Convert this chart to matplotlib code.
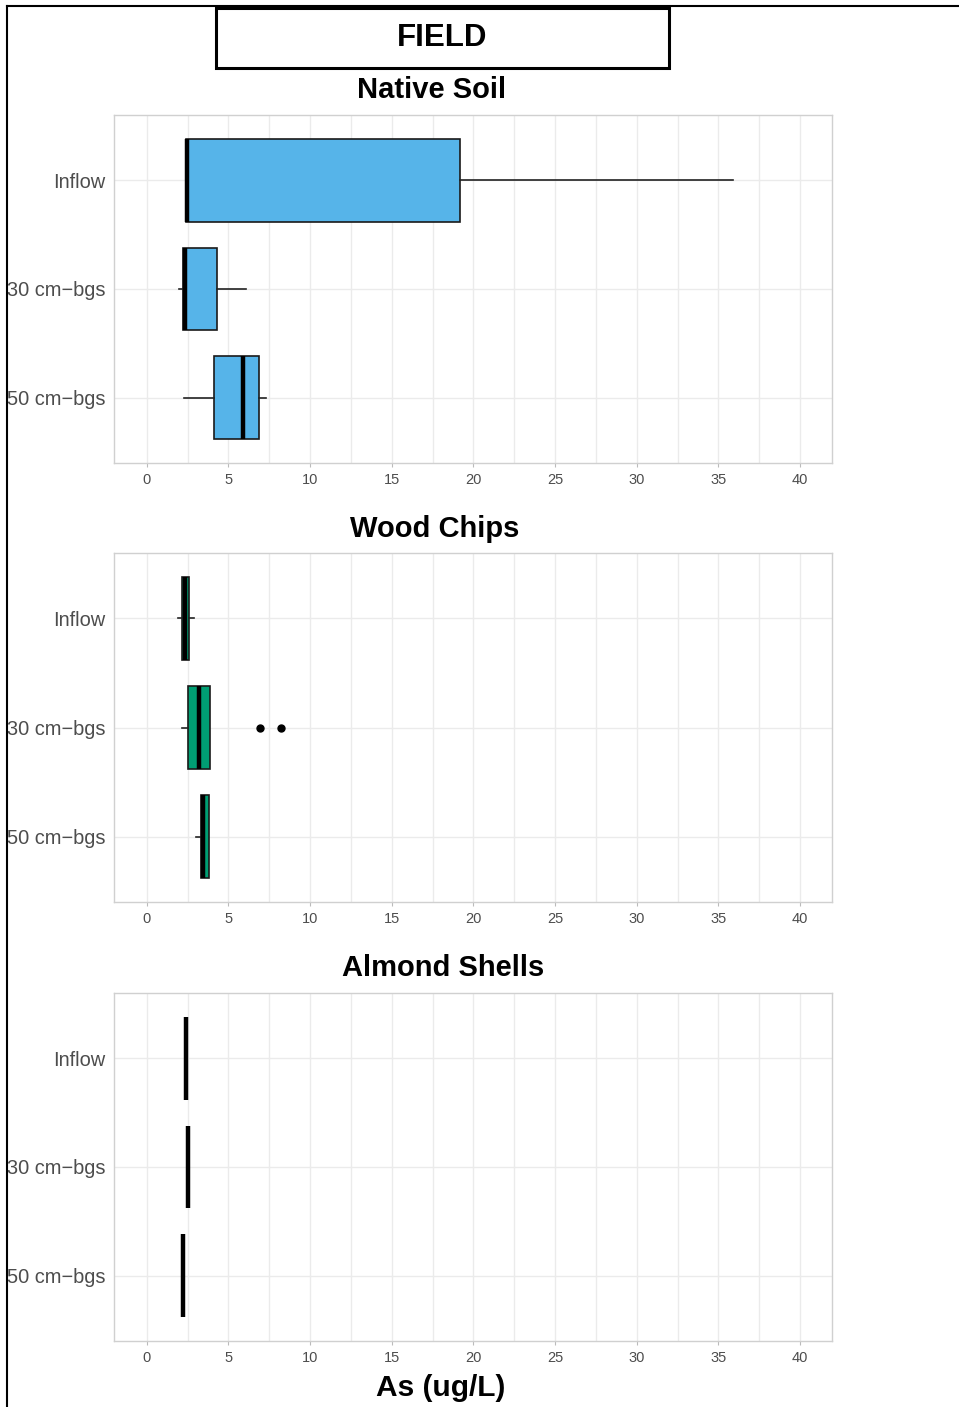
import matplotlib
matplotlib.use("Agg")
import matplotlib.pyplot as plt
from matplotlib.patches import Rectangle
from matplotlib.lines import Line2D

plt.rcParams['font.family'] = ['Liberation Sans', 'DejaVu Sans']

W, H = 959, 1407

depths = ["Inflow", "30 cm\u2212bgs", "50 cm\u2212bgs"]
treatments = ["Native Soil", "Wood Chips", "Almond Shells"]
fills = ["#56B4E9", "#009E73", "#E69F00"]

# box statistics per treatment, ordered Inflow / 30 cm / 50 cm (As, ug/L)
native_q1 = [2.39, 2.20, 4.15]
native_med = [2.45, 2.35, 5.90]
native_q3 = [19.17, 4.29, 6.86]
native_lo = [2.39, 2.00, 2.27]
native_hi = [35.9, 6.06, 7.33]
native_out = [[], [], []]

wood_q1 = [2.16, 2.55, 3.35]
wood_med = [2.35, 3.20, 3.45]
wood_q3 = [2.57, 3.90, 3.82]
wood_lo = [1.90, 2.16, 3.04]
wood_hi = [2.88, 3.90, 3.82]
wood_out = [[], [6.92, 8.22], []]

almond_q1 = [2.39, 2.51, 2.22]
almond_med = [2.39, 2.51, 2.22]
almond_q3 = [2.39, 2.51, 2.22]
almond_lo = [2.39, 2.51, 2.22]
almond_hi = [2.39, 2.51, 2.22]
almond_out = [[], [], []]

panels = [
    (native_q1, native_med, native_q3, native_lo, native_hi, native_out),
    (wood_q1, wood_med, wood_q3, wood_lo, wood_hi, wood_out),
    (almond_q1, almond_med, almond_q3, almond_lo, almond_hi, almond_out),
]

xticks = [0, 5, 10, 15, 20, 25, 30, 35, 40]

fig = plt.figure(figsize=(W / 100, H / 100), dpi=100)


def px(x0, y0, x1, y1):
    return [x0 / W, 1 - y1 / H, (x1 - x0) / W, (y1 - y0) / H]


axes_px = [(114, 115, 832, 463), (114, 553, 832, 902), (114, 993, 832, 1341)]
title_px = [(432, 90), (435, 529), (443, 968)]

for (stats_arrays, box_px, tpos, name, fill) in zip(panels, axes_px, title_px, treatments, fills):
    q1, med, q3, lo, hi, out = stats_arrays
    ax = fig.add_axes(px(*box_px))
    stats = []
    for i in range(3):
        stats.append(dict(q1=q1[i], med=med[i], q3=q3[i], whislo=lo[i],
                          whishi=hi[i], fliers=out[i], label=depths[i]))
    ax.bxp(stats, positions=[1, 2, 3], orientation='horizontal', widths=0.76,
           patch_artist=True, showcaps=False,
           boxprops=dict(facecolor=fill, edgecolor="#1a1a1a", linewidth=1.2),
           medianprops=dict(color="black", linewidth=3.2, solid_capstyle="butt"),
           whiskerprops=dict(color="#222222", linewidth=1.2),
           flierprops=dict(marker="o", markerfacecolor="black",
                           markeredgecolor="black", markersize=5))
    ax.set_yticks([1, 2, 3])
    ax.set_yticklabels(depths)
    ax.set_xticks(xticks)
    ax.set_xticks([x + 2.5 for x in xticks[:-1]], minor=True)
    ax.set_xticklabels([str(x) for x in xticks])
    ax.set_xlim(-2.0, 41.95)
    ax.set_ylim(3.6, 0.4)
    ax.grid(True, which="major", color="#EBEBEB", linewidth=1.0)
    ax.grid(True, which="minor", axis="x", color="#EBEBEB", linewidth=1.0)
    ax.set_axisbelow(True)
    for s in ax.spines.values():
        s.set_color("#D0D0D0")
        s.set_linewidth(1.0)
    ax.tick_params(axis="y", length=0, pad=6, labelsize=14.4, labelcolor="#4D4D4D")
    ax.tick_params(axis="x", which="major", length=3, color="#BBBBBB", pad=4,
                   labelsize=10.5, labelcolor="#4D4D4D")
    ax.tick_params(axis="x", which="minor", length=0)
    fig.text(tpos[0] / W, 1 - tpos[1] / H, name, ha="center", va="center",
             fontsize=21, fontweight="bold")

# header box
fig.patches.append(Rectangle((216 / W, 1 - 68 / H), (669 - 216) / W, 60 / H,
                             transform=fig.transFigure, fill=False,
                             edgecolor="black", linewidth=2.2))
fig.text(442 / W, 1 - 38 / H, "FIELD", ha="center", va="center",
         fontsize=22.5, fontweight="bold")

fig.text(441 / W, 1 - 1388 / H, "As (ug/L)", ha="center", va="center",
         fontsize=21.5, fontweight="bold")

# outer frame
fig.add_artist(Line2D([7 / W, 7 / W], [0, 1 - 6 / H], transform=fig.transFigure,
                      color="black", linewidth=1.5))
fig.add_artist(Line2D([7 / W, 1], [1 - 6 / H, 1 - 6 / H], transform=fig.transFigure,
                      color="black", linewidth=1.5))

fig.savefig("out.png", dpi=100)
